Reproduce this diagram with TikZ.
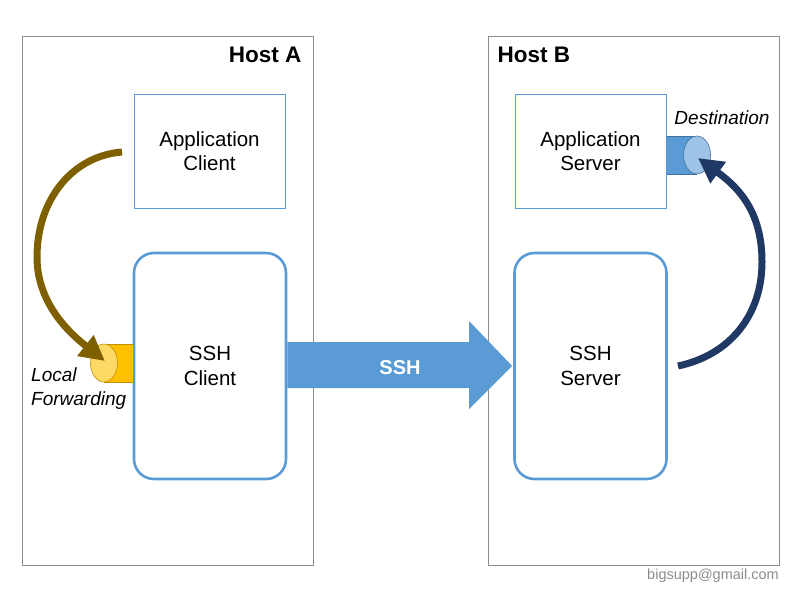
\documentclass[tikz,border=0pt]{standalone}
\usepackage{fontspec}
\setmainfont{Liberation Sans}
\usetikzlibrary{arrows.meta,calc}
\definecolor{boxblue}{HTML}{5B9BD5}
\definecolor{hostgray}{HTML}{8C8C8C}
\definecolor{brownarr}{HTML}{7F6000}
\definecolor{navyarr}{HTML}{1F3864}
\definecolor{goldbody}{HTML}{FFC000}
\definecolor{goldface}{HTML}{FFD966}
\definecolor{goldline}{HTML}{BF9000}
\definecolor{blueface}{HTML}{9DC3E6}
\definecolor{blueline}{HTML}{41719C}
\tikzset{
  hostbox/.style={draw=hostgray, line width=0.8pt, minimum width=291pt, minimum height=529pt, inner sep=0pt},
  appbox/.style={draw=boxblue, line width=0.8pt, minimum width=151pt, minimum height=114pt, align=center, font=\fontsize{20.5}{24.5}\selectfont},
  sshbox/.style={draw=boxblue, line width=2.6pt, rounded corners=20pt, minimum width=152pt, minimum height=226pt, align=center, font=\fontsize{20.5}{24.5}\selectfont},
  hostlabel/.style={font=\fontsize{22.5}{26}\selectfont\bfseries},
  itlabel/.style={font=\fontsize{19}{24}\selectfont\itshape, align=left},
  curvearrow/.style={line width=7pt, -{Triangle[length=25pt,width=25pt]}},
}
\begin{document}
\begin{tikzpicture}[x=1pt,y=-1pt]
\useasboundingbox (0,0) rectangle (800,600);
% hosts
\node[hostbox] (hostA) at (167.5,300.5) {};
\node[hostbox] (hostB) at (633.5,300.5) {};
\node[hostlabel, anchor=east] (labA) at (305,55) {Host A};
\node[hostlabel, anchor=west] (labB) at (494,55) {Host B};
% boxes
\node[appbox] (appc) at (209.5,151) {Application\\Client};
\node[appbox] (apps) at (590.5,151) {Application\\Server};
\node[sshbox] (sshc) at (210,366) {SSH\\Client};
\node[sshbox] (sshs) at (590.5,366) {SSH\\Server};
% big SSH arrow
\fill[boxblue] ($(sshc.east)+(0,-24)$) -- (469,342) -- (469,321) -- ($(sshs.west)+(-1,0)$) -- (469,409) -- (469,388) -- ($(sshc.east)+(0,22)$) -- cycle;
\node[text=white, font=\fontsize{20}{24}\selectfont\bfseries] (ssht) at (400,368) {SSH};
% local forwarding cylinder
\fill[goldbody] (104,344) rectangle (132.7,382);
\draw[goldline, line width=0.6pt] (104,344) -- (132.7,344) (104,382) -- (132.7,382);
\draw[goldline, line width=0.6pt, fill=goldface] (104,363) ellipse [x radius=13.5, y radius=19];
\coordinate (lfend) at (105,361);
% destination cylinder
\fill[boxblue] (666.5,136) rectangle (697,174);
\draw[blueline, line width=0.6pt] (666.5,136) -- (697,136) (666.5,174) -- (697,174);
\draw[blueline, line width=0.6pt, fill=blueface] (697,155) ellipse [x radius=13.5, y radius=19];
\coordinate (dsend) at (698,158);
% labels
\node[itlabel, anchor=north west, inner sep=0pt] (lflab) at (31,368) {Local\\Forwarding};
\node[itlabel, anchor=center] (dslab) at (722,118) {Destination};
\node[text=hostgray, font=\fontsize{14.5}{17}\selectfont, anchor=east, inner sep=0pt] (mail) at (779,576) {bigsupp@gmail.com};
% curved arrows
\coordinate (lfstart) at (122,152);
\coordinate (lfmid) at (37,257);
\coordinate (dsstart) at (678,366);
\coordinate (dsmid) at (762,262);
\draw[curvearrow, brownarr] (lfstart) .. controls (72,156) and (37,200) .. (lfmid) .. controls (37,305) and (72,335) .. (lfend);
\draw[curvearrow, navyarr] (dsstart) .. controls (730,355) and (762,315) .. (dsmid) .. controls (762,215) and (742,190) .. (dsend);
\end{tikzpicture}
\end{document}
